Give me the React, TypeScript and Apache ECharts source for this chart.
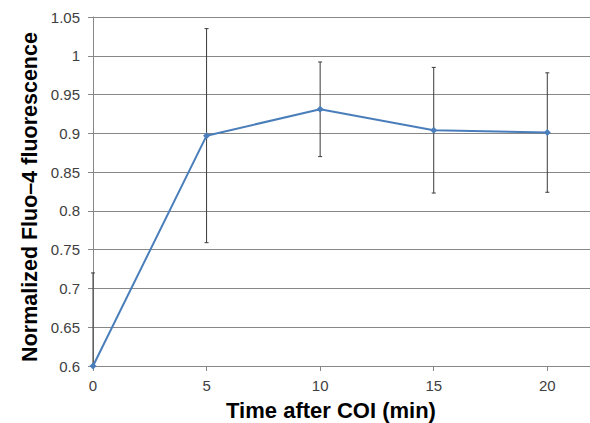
import React, { useEffect, useRef } from "react";
import * as echarts from "echarts";

const times = [0, 5, 10, 15, 20];
const means = [0.6, 0.897, 0.931, 0.904, 0.901];
const errors = [0.12, 0.138, 0.061, 0.081, 0.077];
const yTitle = "Normalized Fluo–4 fluorescence";
const xTitle = "Time after COI (min)";

const FONT = "'Liberation Sans', Arial, sans-serif";

export default function App() {
  const ref = useRef<HTMLDivElement>(null);
  useEffect(() => {
    if (!ref.current) return;
    const chart = echarts.init(ref.current, null, { renderer: "svg" });
    const Y_MIN = 0.6;
    const Y_MAX = 1.05;
    const lineData = times.map((t, i) => [t, means[i]]);
    const errData = times.map((t, i) => [t, means[i] - errors[i], means[i] + errors[i]]);
    chart.setOption({
      animation: false,
      backgroundColor: "#ffffff",
      grid: { left: 93, top: 17, bottom: 57, right: 0, containLabel: false },
      xAxis: {
        type: "value",
        min: 0,
        max: 21.88,
        interval: 5,
        axisLine: { show: true, lineStyle: { color: "#878787", width: 1 } },
        axisTick: { show: true, length: 5, lineStyle: { color: "#878787" } },
        axisLabel: {
          color: "#404040",
          fontSize: 15,
          fontFamily: FONT,
          margin: 12,
          showMaxLabel: false,
          formatter: (v: number) => (v % 5 === 0 ? String(v) : ""),
        },
        splitLine: { show: false },
      },
      yAxis: {
        type: "value",
        min: Y_MIN,
        max: Y_MAX,
        interval: 0.05,
        axisLine: { show: true, lineStyle: { color: "#878787", width: 1 } },
        axisTick: { show: true, length: 5, lineStyle: { color: "#878787" } },
        axisLabel: {
          color: "#404040",
          fontSize: 15,
          fontFamily: FONT,
          margin: 13,
          formatter: (v: number) => String(parseFloat(v.toFixed(2))),
        },
        splitLine: { show: true, lineStyle: { color: "#878787", width: 1 } },
      },
      series: [
        {
          type: "custom",
          z: 2,
          data: errData,
          renderItem: (params: any, api: any) => {
            const x = api.value(0);
            const lo = api.value(1);
            const hi = api.value(2);
            const loC = Math.max(lo, Y_MIN);
            const hiC = Math.min(hi, Y_MAX);
            const pLo = api.coord([x, loC]);
            const pHi = api.coord([x, hiC]);
            const style = { stroke: "#3a3a3a", lineWidth: 1 };
            const children: any[] = [
              { type: "line", shape: { x1: pLo[0], y1: pLo[1], x2: pHi[0], y2: pHi[1] }, style },
            ];
            if (hi <= Y_MAX) {
              children.push({ type: "line", shape: { x1: pHi[0] - 2, y1: pHi[1], x2: pHi[0] + 2, y2: pHi[1] }, style });
            }
            if (lo >= Y_MIN) {
              children.push({ type: "line", shape: { x1: pLo[0] - 2, y1: pLo[1], x2: pLo[0] + 2, y2: pLo[1] }, style });
            }
            return { type: "group", children };
          },
        },
        {
          type: "line",
          z: 3,
          data: lineData,
          symbol: "diamond",
          symbolSize: 7,
          showSymbol: true,
          lineStyle: { color: "#4a7ebb", width: 2 },
          itemStyle: { color: "#4a7ebb" },
        },
      ],
      graphic: [
        {
          type: "text",
          x: 30,
          y: 197,
          rotation: Math.PI / 2,
          style: {
            text: yTitle,
            font: `bold 21.5px ${FONT}`,
            fill: "#000000",
            align: "center",
            verticalAlign: "middle",
          },
        },
        {
          type: "text",
          x: 331,
          y: 410,
          style: {
            text: xTitle,
            font: `bold 22px ${FONT}`,
            fill: "#000000",
            align: "center",
            verticalAlign: "middle",
          },
        },
      ],
    });
    return () => chart.dispose();
  }, []);
  return (
    <div
      ref={ref}
      style={{ position: "absolute", left: 0, top: 0, width: 590, height: 423 }}
    />
  );
}
